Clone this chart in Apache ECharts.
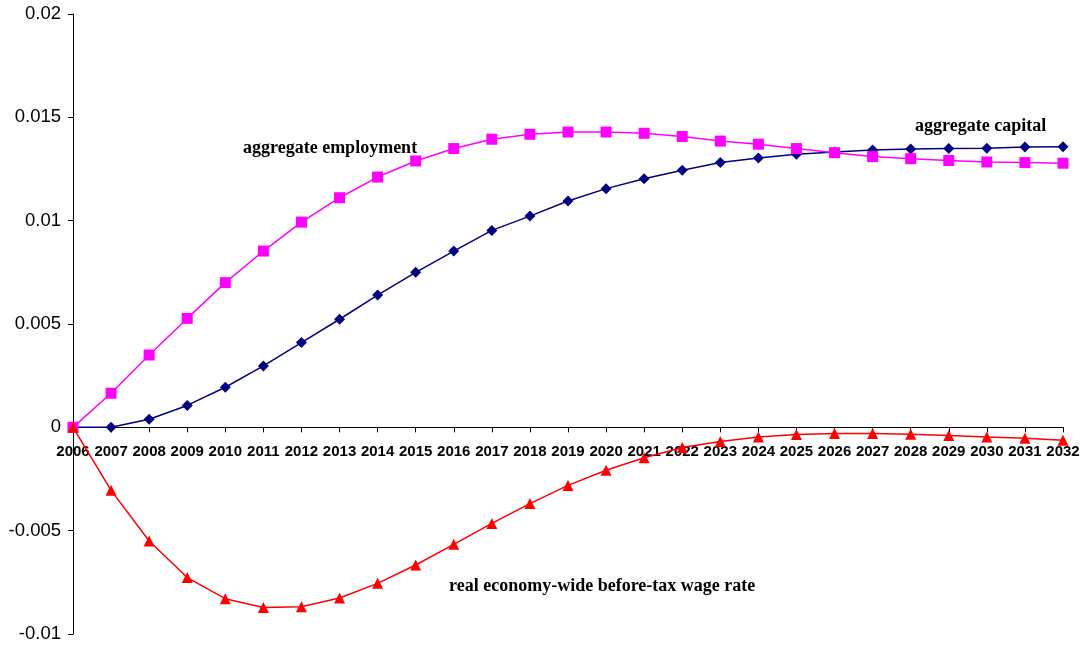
<!DOCTYPE html>
<html>
<head>
<meta charset="utf-8">
<script src="https://cdn.jsdelivr.net/npm/echarts@6/dist/echarts.min.js"></script>
<style>
html,body{margin:0;padding:0;background:#fff;}
#chart{width:1088px;height:651px;}
</style>
</head>
<body>
<div id="chart"></div>
<script>
const years = ['2006','2007','2008','2009','2010','2011','2012','2013','2014','2015','2016','2017','2018','2019','2020','2021','2022','2023','2024','2025','2026','2027','2028','2029','2030','2031','2032'];
const aggregateCapital = [0, 0, 0.00039, 0.00106, 0.00194, 0.00297, 0.0041, 0.00523, 0.0064, 0.0075, 0.00853, 0.00953, 0.01022, 0.01095, 0.01155, 0.01203, 0.01244, 0.01281, 0.01303, 0.01321, 0.01332, 0.01342, 0.01347, 0.01349, 0.0135, 0.01356, 0.01358];
const aggregateEmployment = [0, 0.00165, 0.0035, 0.00527, 0.0070, 0.00853, 0.00993, 0.01111, 0.01211, 0.01289, 0.01349, 0.01394, 0.01418, 0.01429, 0.01429, 0.01423, 0.01407, 0.01385, 0.0137, 0.01349, 0.01329, 0.0131, 0.013, 0.01291, 0.01284, 0.01281, 0.01278];
const wageRate = [0, -0.00305, -0.0055, -0.00727, -0.00829, -0.00872, -0.00868, -0.00826, -0.00755, -0.00666, -0.00566, -0.00465, -0.00369, -0.00281, -0.00208, -0.00147, -0.00098, -0.00069, -0.00047, -0.00035, -0.0003, -0.0003, -0.00034, -0.00039, -0.00047, -0.00053, -0.00063];
const yTicks = { min: -0.01, max: 0.02, interval: 0.005 };
const labels = {
  capital: 'aggregate capital',
  employment: 'aggregate employment',
  wage: 'real economy-wide before-tax wage rate'
};

const gridTop = 14, gridBottom = 17, H = 651;
const plotH = H - gridTop - gridBottom;
// distance from bottom of plot to the zero line
const zeroOffset = plotH * (0 - yTicks.min) / (yTicks.max - yTicks.min);

const chart = echarts.init(document.getElementById('chart'), null, { renderer: 'canvas' });
const annFont = { fontFamily: '"Liberation Serif", "Times New Roman", serif', fontWeight: 'bold', fontSize: 18, fill: '#000' };
chart.setOption({
  animation: false,
  backgroundColor: '#fff',
  grid: { left: 73, right: 25, top: gridTop, bottom: gridBottom, containLabel: false, outerBoundsMode: 'none' },
  xAxis: {
    type: 'category',
    data: years,
    boundaryGap: false,
    position: 'bottom',
    offset: -zeroOffset,
    axisLine: { onZero: false, lineStyle: { color: '#000', width: 1 } },
    axisTick: { show: true, length: 5, alignWithLabel: true, interval: 0, lineStyle: { color: '#000' } },
    axisLabel: { interval: 0, margin: 17, color: '#000', fontFamily: '"Liberation Sans", Arial, sans-serif', fontWeight: 'bold', fontSize: 15 },
    splitLine: { show: false }
  },
  yAxis: {
    type: 'value',
    min: yTicks.min, max: yTicks.max, interval: yTicks.interval,
    axisLine: { show: true, lineStyle: { color: '#000', width: 1 } },
    axisTick: { show: true, length: 5, lineStyle: { color: '#000' } },
    axisLabel: { margin: 12, color: '#000', fontFamily: '"Liberation Sans", Arial, sans-serif', fontSize: 18.5 },
    splitLine: { show: false }
  },
  series: [
    {
      name: labels.capital, type: 'line', data: aggregateCapital,
      symbol: 'diamond', symbolSize: 11,
      lineStyle: { color: '#000080', width: 1.5 },
      itemStyle: { color: '#000080' }
    },
    {
      name: labels.employment, type: 'line', data: aggregateEmployment,
      symbol: 'rect', symbolSize: 11,
      lineStyle: { color: '#FF00FF', width: 1.5 },
      itemStyle: { color: '#FF00FF' }
    },
    {
      name: labels.wage, type: 'line', data: wageRate,
      symbol: 'triangle', symbolSize: 11,
      lineStyle: { color: '#FF0000', width: 1.5 },
      itemStyle: { color: '#FF0000' }
    }
  ],
  graphic: [
    { type: 'text', left: 243, top: 139, style: Object.assign({ text: labels.employment }, annFont) },
    { type: 'text', left: 915, top: 117, style: Object.assign({ text: labels.capital }, annFont) },
    { type: 'text', left: 449, top: 577, style: Object.assign({ text: labels.wage }, annFont) }
  ]
});
</script>
</body>
</html>
